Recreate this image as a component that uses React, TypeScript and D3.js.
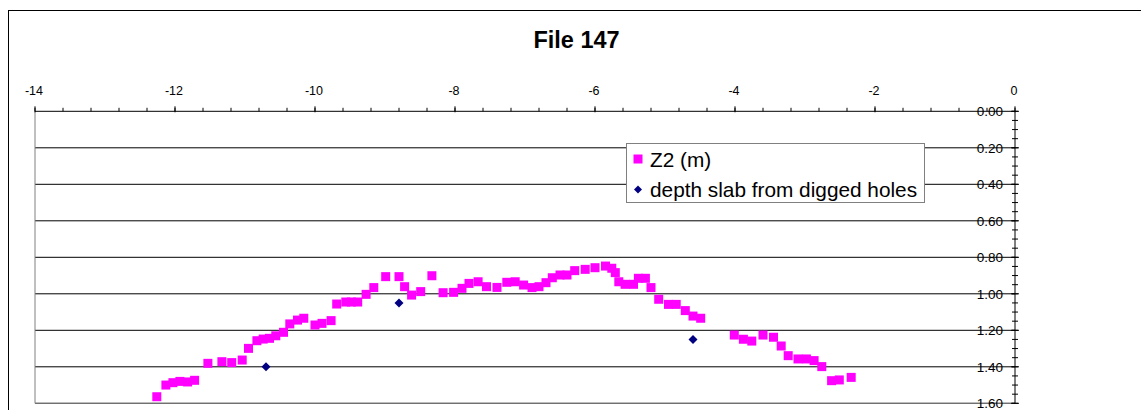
import React from "react";
import * as d3 from "d3";

// Surveyed profile: horizontal position (m) and Z2 depth (m)
const z2X = [
  -12.26, -12.13, -12.03, -11.93, -11.82, -11.72, -11.53, -11.33, -11.19, -11.04,
  -10.95, -10.83, -10.74, -10.65, -10.56, -10.45, -10.36, -10.25, -10.16, -10.0,
  -9.9, -9.77, -9.69, -9.56, -9.48, -9.39, -9.27, -9.16, -8.99, -8.8,
  -8.72, -8.62, -8.49, -8.33, -8.17, -8.02, -7.9, -7.8, -7.67, -7.55,
  -7.4, -7.26, -7.14, -7.02, -6.9, -6.8, -6.7, -6.61, -6.5, -6.4,
  -6.29, -6.14, -6.0, -5.85, -5.76, -5.71, -5.66, -5.57, -5.45, -5.38,
  -5.28, -5.2, -5.09, -4.95, -4.84, -4.71, -4.6, -4.49, -4.01, -3.88,
  -3.76, -3.6, -3.45, -3.34, -3.24, -3.1, -2.98, -2.87, -2.76, -2.62,
  -2.51, -2.34,
];
const z2Depth = [
  1.564, 1.5, 1.487, 1.48, 1.483, 1.474, 1.381, 1.372, 1.377, 1.363,
  1.299, 1.257, 1.248, 1.244, 1.23, 1.211, 1.165, 1.144, 1.134, 1.171,
  1.162, 1.147, 1.056, 1.045, 1.045, 1.045, 1.003, 0.966, 0.906, 0.906,
  0.961, 1.007, 0.988, 0.901, 0.994, 0.992, 0.97, 0.943, 0.934, 0.961,
  0.965, 0.937, 0.934, 0.952, 0.966, 0.961, 0.939, 0.912, 0.897, 0.897,
  0.873, 0.866, 0.857, 0.848, 0.86, 0.884, 0.934, 0.948, 0.948, 0.915,
  0.915, 0.966, 1.03, 1.058, 1.058, 1.092, 1.122, 1.134, 1.226, 1.249,
  1.259, 1.226, 1.238, 1.286, 1.339, 1.357, 1.357, 1.366, 1.399, 1.476,
  1.472, 1.458,
];

// Slab depth measured in the dug holes
const holeX = [-10.7, -8.8, -4.6];
const holeDepth = [1.4, 1.05, 1.25];

const xTicks = [-14, -12, -10, -8, -6, -4, -2, 0];
const yTicks = [0, 0.2, 0.4, 0.6, 0.8, 1.0, 1.2, 1.4, 1.6];

const title = "File 147";
const seriesNames = ["Z2 (m)", "depth slab from digged holes"];

const W = 1141;
const H = 410;

export default function App() {
  const x = d3.scaleLinear().domain([-14, 0]).range([35, 1015]);
  const y = d3.scaleLinear().domain([0, 1.6]).range([111.3, 403.3]);

  const xMinor = d3.range(-14, 0.001, 0.4).map((v) => +v.toFixed(2));
  const yMinor = d3.range(0, 1.6001, 0.05).map((v) => +v.toFixed(3));

  const font = "Arial, 'Liberation Sans', Helvetica, sans-serif";
  const sq = 9;
  const diamond = (cx: number, cy: number, r: number) =>
    `M${cx},${cy - r}L${cx + r},${cy}L${cx},${cy + r}L${cx - r},${cy}Z`;

  return (
    <svg
      width={W}
      height={H}
      style={{ position: "absolute", left: 0, top: 0, display: "block", fontFamily: font }}
    >
      {/* chart frame */}
      <rect x={8.5} y={10.5} width={W + 20} height={H + 20} fill="#fff" stroke="#000" strokeWidth={1} />

      <text x={576.5} y={47.7} textAnchor="middle" fontSize={23.5} fontWeight="bold" fill="#000">
        {title}
      </text>

      {/* horizontal gridlines */}
      {yTicks.slice(1).map((t) => (
        <line key={"g" + t} x1={x(-14)} x2={x(0)} y1={y(t)} y2={y(t)} stroke="#000" strokeWidth={1} />
      ))}
      {/* plot area left/bottom edges */}
      <line x1={x(-14)} x2={x(-14)} y1={y(0)} y2={y(1.6)} stroke="#808080" strokeWidth={1} />
      <line x1={x(-14)} x2={x(0)} y1={y(1.6)} y2={y(1.6)} stroke="#808080" strokeWidth={1} />

      {/* top x axis */}
      <line x1={x(-14)} x2={x(0)} y1={y(0)} y2={y(0)} stroke="#000" strokeWidth={1} />
      {xMinor.map((t) => (
        <line key={"xm" + t} x1={x(t)} x2={x(t)} y1={y(0) - 3.5} y2={y(0)} stroke="#000" strokeWidth={1} />
      ))}
      {xTicks.map((t) => (
        <g key={"xt" + t}>
          <line x1={x(t)} x2={x(t)} y1={y(0) - 5} y2={y(0) + 1} stroke="#000" strokeWidth={1} />
          <text x={x(t) - 1} y={95} textAnchor="middle" fontSize={12.5} fill="#000">
            {t}
          </text>
        </g>
      ))}

      {/* right y axis */}
      <line x1={x(0)} x2={x(0)} y1={y(0)} y2={y(1.6)} stroke="#000" strokeWidth={1} />
      {yMinor.map((t) => (
        <line key={"ym" + t} x1={x(0) - 3} x2={x(0) + 3} y1={y(t)} y2={y(t)} stroke="#000" strokeWidth={1} />
      ))}
      {yTicks.map((t) => (
        <g key={"yt" + t}>
          <line x1={x(0) - 4} x2={x(0) + 4} y1={y(t)} y2={y(t)} stroke="#000" strokeWidth={1} />
          <text x={1003} y={y(t) + 4.8} textAnchor="end" fontSize={13.5} fill="#000">
            {t.toFixed(2)}
          </text>
        </g>
      ))}

      {/* Z2 series */}
      {z2X.map((v, i) => (
        <rect
          key={"z" + i}
          x={x(v) - sq / 2}
          y={y(z2Depth[i]) - sq / 2}
          width={sq}
          height={sq}
          fill="#FF00FF"
        />
      ))}

      {/* hole measurements */}
      {holeX.map((v, i) => (
        <path key={"h" + i} d={diamond(x(v), y(holeDepth[i]), 4.5)} fill="#000080" />
      ))}

      {/* legend */}
      <g>
        <rect x={626.5} y={143.5} width={298} height={59} fill="#fff" stroke="#808080" strokeWidth={1} />
        <rect x={638 - 4.5} y={159 - 4.5} width={9} height={9} fill="#FF00FF" />
        <text x={650} y={166.5} fontSize={20.8} fill="#000">
          {seriesNames[0]}
        </text>
        <path d={diamond(638, 189.5, 4)} fill="#000080" />
        <text x={650} y={197} fontSize={20.8} fill="#000">
          {seriesNames[1]}
        </text>
      </g>
    </svg>
  );
}
